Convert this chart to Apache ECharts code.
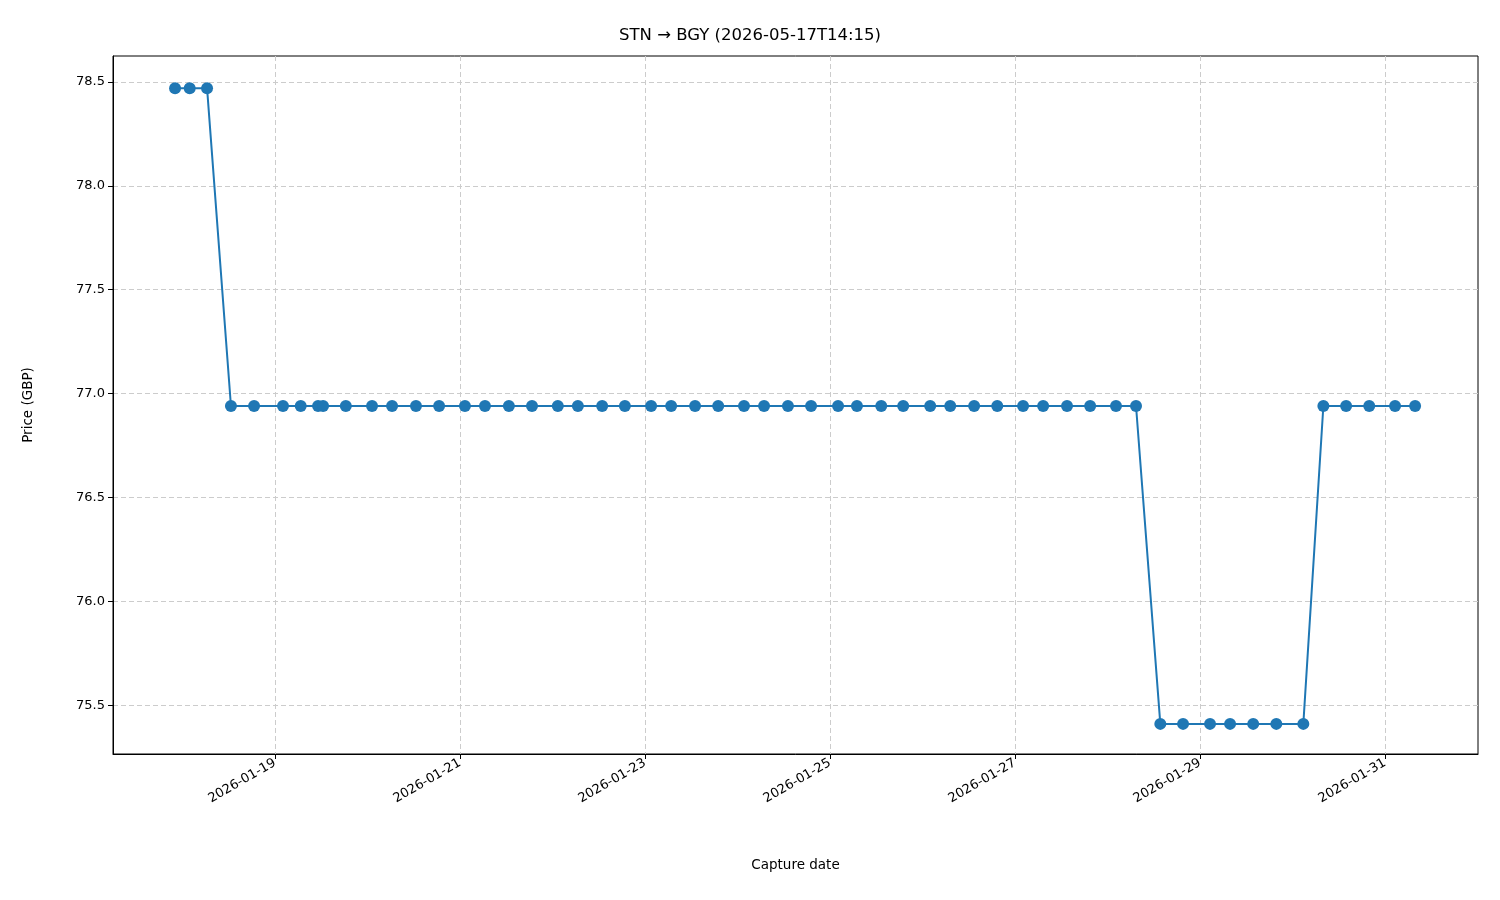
<!DOCTYPE html>
<html>
<head>
<meta charset="utf-8">
<script src="https://cdn.jsdelivr.net/npm/echarts@6/dist/echarts.min.js"></script>
<style>html,body{margin:0;padding:0;background:#fff}#c{width:1500px;height:900px}</style>
</head>
<body>
<div id="c"></div>
<script>
var captureTimes = [
  '2026-01-17T22:06','2026-01-18T01:54','2026-01-18T06:24','2026-01-18T12:36','2026-01-18T18:36',
  '2026-01-19T02:06','2026-01-19T06:42','2026-01-19T11:12','2026-01-19T12:30','2026-01-19T18:24',
  '2026-01-20T01:12','2026-01-20T06:24','2026-01-20T12:36','2026-01-20T18:36',
  '2026-01-21T01:18','2026-01-21T06:30','2026-01-21T12:42','2026-01-21T18:42',
  '2026-01-22T01:24','2026-01-22T06:36','2026-01-22T12:54','2026-01-22T18:48',
  '2026-01-23T01:36','2026-01-23T06:48','2026-01-23T13:00','2026-01-23T19:00',
  '2026-01-24T01:42','2026-01-24T06:54','2026-01-24T13:06','2026-01-24T19:06',
  '2026-01-25T02:06','2026-01-25T07:00','2026-01-25T13:18','2026-01-25T19:00',
  '2026-01-26T02:00','2026-01-26T07:12','2026-01-26T13:24','2026-01-26T19:24',
  '2026-01-27T02:06','2026-01-27T07:18','2026-01-27T13:30','2026-01-27T19:30',
  '2026-01-28T02:12','2026-01-28T07:24','2026-01-28T13:42','2026-01-28T19:36',
  '2026-01-29T02:36','2026-01-29T07:48','2026-01-29T13:48','2026-01-29T19:48',
  '2026-01-30T02:48','2026-01-30T08:00','2026-01-30T13:54','2026-01-30T19:54',
  '2026-01-31T02:36','2026-01-31T07:48'
];
var prices = [
  78.47,78.47,78.47,76.94,76.94,
  76.94,76.94,76.94,76.94,76.94,
  76.94,76.94,76.94,76.94,
  76.94,76.94,76.94,76.94,
  76.94,76.94,76.94,76.94,
  76.94,76.94,76.94,76.94,
  76.94,76.94,76.94,76.94,
  76.94,76.94,76.94,76.94,
  76.94,76.94,76.94,76.94,
  76.94,76.94,76.94,76.94,
  76.94,76.94,75.41,75.41,
  75.41,75.41,75.41,75.41,
  75.41,76.94,76.94,76.94,
  76.94,76.94
];
var xTickDates = ['2026-01-19','2026-01-21','2026-01-23','2026-01-25','2026-01-27','2026-01-29','2026-01-31'];
var yTicks = [75.5, 76.0, 76.5, 77.0, 77.5, 78.0, 78.5];

function ts(s) { return Date.parse(s + (s.length === 10 ? 'T00:00:00Z' : ':00Z')); }
var xTickVals = xTickDates.map(ts);
var seriesData = captureTimes.map(function (t, i) { return [ts(t), prices[i]]; });

var myChart = echarts.init(document.getElementById('c'));
var font = 'DejaVu Sans';
var option = {
  animation: false,
  title: {
    text: 'STN \u2192 BGY (2026-05-17T14:15)',
    left: 'center', top: 22,
    textStyle: { fontFamily: font, fontSize: 16.5, fontWeight: 'normal', color: '#000' }
  },
  grid: { left: 113, right: 22, top: 56, bottom: 146 },
  xAxis: {
    type: 'value',
    min: ts('2026-01-17T06:00'),
    max: ts('2026-02-01T00:07'),
    name: 'Capture date', nameLocation: 'middle', nameGap: 104,
    nameTextStyle: { fontFamily: font, fontSize: 13.5, color: '#000' },
    axisLine: { onZero: false, lineStyle: { color: '#000' } },
    axisTick: { show: true, customValues: xTickVals, length: 5, lineStyle: { color: '#000' } },
    axisLabel: {
      customValues: xTickVals, rotate: 30, fontFamily: font, fontSize: 13, color: '#000', margin: 8,
      formatter: function (v) {
        var d = new Date(v);
        return d.getUTCFullYear() + '-' + String(d.getUTCMonth() + 1).padStart(2, '0') + '-' + String(d.getUTCDate()).padStart(2, '0');
      }
    },
    splitLine: { show: true, lineStyle: { color: '#ccc', type: [5, 3] } }
  },
  yAxis: {
    type: 'value',
    min: 75.265, max: 78.625,
    name: 'Price (GBP)', nameLocation: 'middle', nameGap: 78, nameRotate: 90,
    nameTextStyle: { fontFamily: font, fontSize: 13.5, color: '#000' },
    axisLine: { show: true, lineStyle: { color: '#000' } },
    axisTick: { show: true, customValues: yTicks, length: 5, lineStyle: { color: '#000' } },
    axisLabel: { customValues: yTicks, fontFamily: font, fontSize: 13, color: '#000',
      formatter: function (v) { return v.toFixed(1); } },
    splitLine: { show: true, lineStyle: { color: '#ccc', type: [5, 3] } }
  },
  series: [{
    type: 'line',
    data: seriesData,
    symbol: 'circle', symbolSize: 12,
    lineStyle: { color: '#1f77b4', width: 2 },
    itemStyle: { color: '#1f77b4' }
  }],
  graphic: [{ type: 'rect', shape: { x: 113, y: 56, width: 1365, height: 698 }, style: { fill: 'none', stroke: '#000', lineWidth: 1 }, silent: true }]
};
myChart.setOption(option);
window.addEventListener('resize', function () { myChart.resize(); });
</script>
</body>
</html>
